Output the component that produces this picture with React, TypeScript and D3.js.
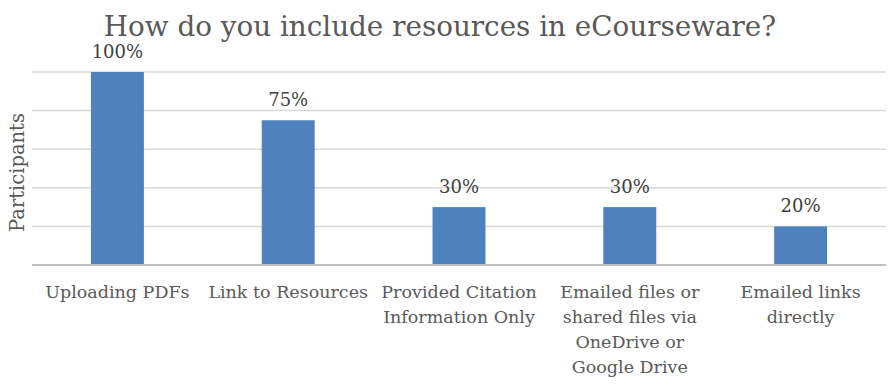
import * as d3 from 'd3';

const categories = [
  ['Uploading PDFs'],
  ['Link to Resources'],
  ['Provided Citation', 'Information Only'],
  ['Emailed files or', 'shared files via', 'OneDrive or', 'Google Drive'],
  ['Emailed links', 'directly'],
];
const values = [100, 75, 30, 30, 20];
const yTicks = [0, 20, 40, 60, 80, 100];
const title = 'How do you include resources in eCourseware?';
const yLabel = 'Participants';

const W = 896;
const H = 385;
const FONT = '"DejaVu Serif", serif';

export default function App() {
  const x = d3
    .scaleBand<number>()
    .domain(values.map((_, i) => i))
    .range([32, 886])
    .paddingInner(0.69)
    .paddingOuter(0.345);
  const y = d3.scaleLinear().domain([0, 100]).range([265, 72]);

  return (
    <svg
      width={W}
      height={H}
      style={{ position: 'absolute', left: 0, top: 0, background: '#fff' }}
      fontFamily={FONT}
    >
      <text x={440} y={36} textAnchor="middle" fontSize={27.8} fill="#595959">
        {title}
      </text>
      <text
        transform={`translate(24,${y(50) + 4}) rotate(-90)`}
        textAnchor="middle"
        fontSize={19.5}
        fill="#595959"
      >
        {yLabel}
      </text>

      {yTicks.slice(1).map(t => (
        <line key={t} x1={32} x2={886} y1={y(t)} y2={y(t)} stroke="#d9d9d9" strokeWidth={1.5} />
      ))}

      {values.map((v, i) => (
        <rect
          key={i}
          x={x(i)}
          y={y(v)}
          width={x.bandwidth()}
          height={y(0) - y(v)}
          fill="#4f81bd"
        />
      ))}
      <line x1={32} x2={886} y1={y(0)} y2={y(0)} stroke="#bfbfbf" strokeWidth={2} />

      {values.map((v, i) => (
        <text
          key={i}
          x={(x(i) ?? 0) + x.bandwidth() / 2}
          y={y(v) - 14}
          textAnchor="middle"
          fontSize={18}
          fill="#404040"
        >
          {v}%
        </text>
      ))}

      {categories.map((lines, i) => (
        <text
          key={i}
          x={(x(i) ?? 0) + x.bandwidth() / 2}
          y={298}
          textAnchor="middle"
          fontSize={17.5}
          fill="#595959"
        >
          {lines.map((l, j) => (
            <tspan key={j} x={(x(i) ?? 0) + x.bandwidth() / 2} dy={j === 0 ? 0 : 25}>
              {l}
            </tspan>
          ))}
        </text>
      ))}
    </svg>
  );
}
